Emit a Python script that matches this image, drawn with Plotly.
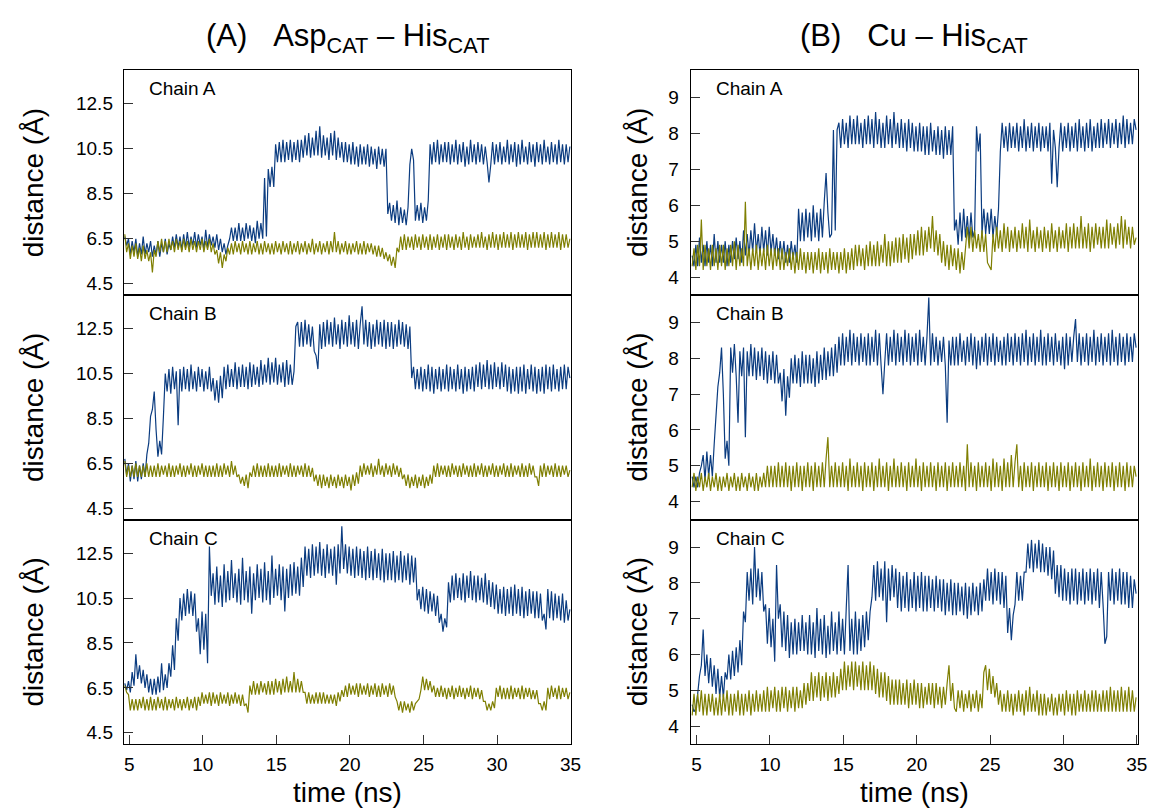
import plotly.graph_objects as go

# Each series is stored as rows of 16 samples; row k starts at T0 + 2k ns,
# samples within a row are DT apart.
T0 = 4.7
ROW_NS = 2.0
DT = 0.125

# ---------------- (A) Asp_CAT - His_CAT ----------------
ASP_A_BLUE = [
    [6.6, 6.2, 6.5, 5.8, 6.4, 5.9, 6.5, 5.7, 6.3, 5.8, 6.6, 5.8, 6.3, 5.9, 6.4, 5.7],
    [6.2, 5.8, 6.4, 5.7, 6.3, 5.9, 6.5, 5.8, 6.3, 6.0, 6.6, 6.1, 6.7, 6.1, 6.6, 6.0],
    [6.7, 6.1, 6.8, 6.1, 6.6, 6.2, 6.8, 6.1, 6.7, 6.2, 6.6, 6.0, 6.9, 6.1, 6.7, 6.2],
    [6.6, 6.1, 6.7, 6.0, 6.5, 5.9, 6.3, 5.8, 6.2, 6.5, 7.0, 6.4, 7.0, 6.4, 7.2, 6.4],
    [7.0, 6.4, 7.2, 6.5, 7.1, 6.4, 7.0, 6.3, 7.3, 6.5, 7.2, 6.5, 9.2, 6.6, 9.6, 8.8],
    [9.7, 8.8, 10.7, 9.9, 10.8, 9.9, 10.9, 9.9, 10.8, 10.0, 10.9, 9.9, 10.8, 10.0, 10.9, 9.9],
    [10.9, 10.1, 11.1, 10.2, 11.2, 10.1, 11.0, 10.2, 11.3, 10.2, 11.5, 10.1, 11.1, 10.2, 11.0, 10.0],
    [11.2, 10.2, 11.3, 10.0, 11.0, 10.1, 10.8, 9.9, 10.8, 9.9, 10.7, 9.8, 10.8, 9.8, 10.6, 9.7],
    [10.7, 9.8, 10.6, 9.8, 10.7, 9.7, 10.6, 9.8, 10.5, 9.6, 10.6, 9.8, 10.5, 9.7, 10.5, 7.6],
    [8.1, 7.3, 8.0, 7.2, 8.2, 7.1, 7.9, 7.2, 7.8, 7.1, 7.9, 9.8, 10.5, 10.0, 7.3, 8.0],
    [7.3, 8.1, 7.2, 7.9, 7.3, 8.2, 10.7, 9.8, 10.8, 9.9, 10.9, 9.8, 10.7, 9.9, 10.8, 9.9],
    [10.8, 9.8, 10.7, 9.9, 10.9, 9.8, 10.7, 9.9, 10.8, 9.7, 10.6, 9.8, 10.9, 9.9, 10.7, 9.8],
    [10.8, 9.9, 10.7, 9.8, 10.6, 9.9, 9.0, 9.8, 10.8, 9.8, 10.7, 9.9, 10.8, 9.8, 10.6, 9.9],
    [10.9, 9.8, 10.7, 9.9, 10.8, 9.7, 10.7, 9.8, 10.9, 9.9, 10.6, 9.8, 10.8, 9.9, 10.7, 9.7],
    [10.8, 9.9, 10.7, 9.8, 10.9, 9.9, 10.6, 9.8, 10.8, 9.9, 10.7, 9.8, 10.9, 9.9, 10.7, 9.8],
    [10.7, 9.9, 10.6],
]
ASP_A_OLIVE = [
    [6.7, 5.9, 6.3, 5.6, 6.2, 5.7, 6.3, 5.6, 6.1, 5.5, 6.2, 5.6, 6.0, 5.5, 5.9, 5.0],
    [6.0, 5.7, 6.4, 5.9, 6.5, 5.9, 6.4, 5.9, 6.5, 6.0, 6.4, 5.9, 6.5, 6.0, 6.4, 5.9],
    [6.5, 6.0, 6.4, 5.9, 6.5, 6.0, 6.4, 5.9, 6.4, 6.0, 6.5, 5.9, 6.4, 6.0, 6.5, 5.9],
    [6.3, 5.8, 6.0, 5.4, 5.9, 5.2, 5.8, 5.5, 6.1, 5.8, 6.3, 5.8, 6.4, 5.9, 6.3, 5.8],
    [6.4, 5.9, 6.3, 5.8, 6.4, 5.8, 6.3, 5.9, 6.4, 5.8, 6.3, 5.8, 6.4, 5.9, 6.3, 5.8],
    [6.3, 5.8, 6.4, 5.9, 6.3, 5.8, 6.4, 5.9, 6.3, 5.8, 6.4, 5.8, 6.3, 5.9, 6.4, 5.8],
    [6.3, 5.9, 6.4, 5.8, 6.3, 5.9, 6.5, 5.8, 6.3, 5.9, 6.4, 5.8, 6.3, 5.9, 6.4, 5.8],
    [6.4, 5.9, 6.8, 5.9, 6.4, 5.8, 6.3, 5.9, 6.4, 5.8, 6.3, 5.8, 6.3, 5.9, 6.4, 5.8],
    [6.3, 5.8, 6.4, 5.8, 6.3, 5.9, 6.3, 5.8, 6.2, 5.7, 6.2, 5.7, 6.1, 5.6, 5.9, 5.5],
    [5.8, 5.3, 5.7, 5.2, 6.1, 5.9, 6.6, 6.0, 6.7, 6.0, 6.6, 6.1, 6.6, 6.0, 6.7, 6.1],
    [6.6, 6.0, 6.7, 6.1, 6.6, 6.0, 6.7, 6.0, 6.6, 6.1, 6.7, 6.0, 6.6, 6.1, 6.7, 6.0],
    [6.7, 6.1, 6.6, 6.0, 6.7, 6.1, 6.6, 6.0, 6.8, 6.1, 6.6, 6.0, 6.7, 6.1, 6.6, 6.1],
    [6.7, 6.1, 6.8, 6.1, 6.6, 6.0, 6.7, 6.1, 6.8, 6.1, 6.7, 6.0, 6.7, 6.1, 6.8, 6.1],
    [6.7, 6.1, 6.8, 6.0, 6.7, 6.1, 6.8, 6.1, 6.7, 6.1, 6.8, 6.0, 6.7, 6.1, 6.8, 6.1],
    [6.8, 6.1, 6.7, 6.1, 6.8, 6.0, 6.7, 6.1, 6.8, 6.1, 6.7, 6.1, 6.8, 6.0, 6.7, 6.1],
    [6.7, 6.1, 6.5],
]
ASP_B_BLUE = [
    [6.7, 6.0, 6.5, 5.7, 6.4, 5.8, 6.6, 5.7, 6.4, 5.8, 6.5, 5.9, 6.9, 7.4, 8.6, 8.9],
    [9.7, 8.0, 6.8, 7.5, 6.9, 8.6, 10.5, 9.7, 10.7, 9.6, 10.8, 9.8, 10.6, 8.2, 10.7, 9.7],
    [10.8, 9.8, 10.7, 9.7, 10.9, 9.8, 10.6, 9.7, 10.8, 9.9, 10.7, 9.7, 10.6, 9.8, 10.8, 9.7],
    [10.3, 9.3, 10.2, 9.2, 10.4, 9.4, 10.8, 9.8, 10.9, 9.9, 10.7, 9.9, 11.0, 9.8, 10.8, 9.9],
    [10.9, 9.9, 10.8, 9.8, 11.0, 9.9, 10.9, 10.0, 10.8, 9.9, 11.1, 10.0, 10.9, 10.1, 11.2, 10.0],
    [11.0, 10.1, 11.2, 10.0, 10.9, 10.1, 11.0, 9.9, 11.1, 10.0, 10.9, 10.0, 10.6, 12.6, 12.8, 11.7],
    [12.8, 11.7, 12.9, 11.8, 12.7, 11.7, 12.6, 11.5, 11.3, 10.7, 12.7, 11.6, 12.8, 11.7, 12.9, 11.8],
    [12.8, 11.7, 13.0, 11.8, 12.7, 11.6, 12.9, 11.8, 12.8, 11.7, 13.1, 11.8, 12.8, 11.7, 12.9, 11.6],
    [12.7, 13.5, 11.8, 12.9, 11.7, 12.8, 11.6, 12.7, 11.7, 12.9, 11.8, 12.8, 11.7, 12.9, 11.6, 12.8],
    [11.7, 12.8, 11.6, 12.7, 11.7, 12.9, 11.8, 12.8, 11.7, 12.7, 11.6, 12.6, 10.3, 10.8, 9.8, 10.7],
    [9.8, 10.8, 9.7, 10.7, 9.8, 10.9, 9.7, 10.8, 9.6, 10.7, 9.8, 10.8, 9.7, 10.7, 9.8, 10.9],
    [9.7, 10.8, 9.8, 10.7, 9.7, 10.9, 9.8, 10.7, 9.6, 10.8, 9.7, 10.7, 9.8, 10.8, 9.7, 10.9],
    [9.9, 11.0, 9.8, 10.9, 9.9, 11.1, 9.8, 10.9, 9.8, 11.0, 9.9, 10.8, 9.8, 11.0, 9.9, 10.9],
    [9.7, 10.8, 9.6, 10.7, 9.7, 10.8, 9.6, 10.8, 9.7, 10.9, 9.6, 10.7, 9.8, 10.9, 9.7, 10.8],
    [9.6, 10.7, 9.7, 10.8, 9.6, 10.9, 9.8, 10.8, 9.7, 10.9, 9.8, 10.7, 9.7, 10.8, 9.8, 10.9],
    [9.8, 10.8, 10.3],
]
ASP_B_OLIVE = [
    [6.6, 5.9, 6.4, 5.9, 6.4, 5.9, 6.5, 5.9, 6.4, 5.9, 6.4, 5.9, 6.5, 5.9, 6.4, 5.9],
    [6.4, 5.9, 6.5, 5.9, 6.4, 6.0, 6.4, 5.9, 6.5, 5.9, 6.4, 5.9, 6.4, 6.0, 6.5, 5.9],
    [6.4, 5.9, 6.4, 6.0, 6.5, 5.9, 6.4, 5.9, 6.4, 6.0, 6.5, 5.9, 6.4, 5.9, 6.4, 5.9],
    [6.4, 5.9, 6.5, 5.9, 6.4, 5.9, 6.5, 6.0, 6.4, 5.9, 6.6, 6.0, 6.4, 5.9, 6.0, 5.6],
    [5.9, 5.5, 6.0, 5.4, 6.1, 5.9, 6.4, 5.9, 6.5, 5.9, 6.4, 5.9, 6.4, 5.9, 6.5, 5.9],
    [6.4, 5.9, 6.4, 5.9, 6.5, 5.9, 6.4, 6.0, 6.4, 5.9, 6.5, 5.9, 6.4, 5.9, 6.4, 6.0],
    [6.4, 5.9, 6.5, 5.9, 6.4, 5.9, 6.3, 5.7, 6.0, 5.5, 6.0, 5.4, 6.0, 5.5, 5.9, 5.4],
    [6.0, 5.5, 5.9, 5.4, 6.0, 5.5, 5.9, 5.4, 6.0, 5.5, 5.9, 5.3, 6.0, 5.5, 6.1, 5.6],
    [6.4, 5.9, 6.5, 6.0, 6.4, 6.0, 6.5, 5.9, 6.4, 6.0, 6.7, 6.0, 6.4, 5.9, 6.5, 6.0],
    [6.4, 5.9, 6.5, 6.0, 6.4, 5.9, 6.3, 5.8, 6.0, 5.5, 6.0, 5.4, 5.9, 5.5, 6.0, 5.4],
    [5.9, 5.5, 6.0, 5.4, 5.9, 5.5, 6.0, 5.6, 6.4, 5.9, 6.5, 5.9, 6.4, 6.0, 6.4, 5.9],
    [6.4, 5.9, 6.5, 6.0, 6.4, 5.9, 6.4, 5.9, 6.5, 6.0, 6.4, 5.9, 6.4, 5.9, 6.5, 5.9],
    [6.4, 6.0, 6.5, 5.9, 6.4, 5.9, 6.4, 6.0, 6.5, 5.9, 6.4, 5.9, 6.4, 6.0, 6.5, 5.9],
    [6.4, 5.9, 6.5, 5.9, 6.4, 6.0, 6.4, 5.9, 6.5, 5.9, 6.4, 5.9, 6.5, 6.0, 6.4, 5.9],
    [5.9, 5.5, 6.4, 5.9, 6.5, 5.9, 6.4, 6.0, 6.4, 5.9, 6.5, 5.9, 6.4, 5.9, 6.4, 6.0],
    [6.4, 5.9, 6.2],
]
ASP_C_BLUE = [
    [6.7, 6.4, 6.8, 6.3, 7.2, 6.6, 8.0, 6.9, 7.5, 6.7, 7.3, 6.5, 7.1, 6.3, 6.9, 6.2],
    [6.9, 6.2, 7.0, 6.3, 7.6, 6.4, 7.1, 6.5, 7.6, 7.0, 8.4, 7.3, 9.6, 8.6, 10.5, 9.5],
    [10.7, 9.7, 10.9, 9.8, 10.8, 9.7, 10.7, 9.0, 9.6, 8.0, 9.9, 8.2, 9.8, 7.6, 12.8, 10.6],
    [11.6, 10.2, 11.9, 10.3, 11.5, 10.1, 12.0, 10.3, 11.7, 10.4, 12.2, 10.5, 11.6, 10.3, 11.8, 10.2],
    [12.3, 10.4, 11.7, 10.3, 11.9, 9.8, 11.6, 10.4, 12.0, 10.5, 11.8, 10.3, 12.1, 10.4, 11.7, 10.2],
    [12.4, 10.5, 11.8, 10.6, 12.0, 10.4, 11.9, 9.9, 11.8, 10.5, 12.0, 10.6, 12.1, 10.7, 11.9, 10.6],
    [12.3, 11.0, 12.8, 11.5, 12.7, 11.4, 12.9, 11.5, 12.8, 11.6, 13.0, 11.5, 12.7, 11.4, 12.9, 11.6],
    [12.7, 11.5, 12.8, 11.1, 12.9, 11.6, 13.7, 11.8, 12.9, 11.6, 12.8, 11.5, 12.7, 11.4, 12.8, 11.5],
    [12.7, 11.4, 12.6, 11.3, 12.8, 11.4, 12.6, 11.3, 12.7, 11.4, 12.5, 11.3, 12.7, 11.2, 12.5, 11.3],
    [12.5, 11.3, 12.6, 11.2, 12.4, 11.3, 12.6, 11.2, 12.4, 11.3, 12.5, 11.1, 12.4, 11.2, 12.3, 10.4],
    [10.9, 10.0, 11.0, 9.9, 10.9, 9.8, 10.8, 9.9, 10.7, 9.7, 10.6, 9.4, 9.8, 9.0, 9.6, 9.2],
    [11.2, 10.3, 11.5, 10.4, 11.6, 10.5, 11.4, 10.4, 11.6, 10.3, 11.5, 10.5, 11.7, 10.4, 11.5, 10.3],
    [11.5, 10.4, 11.4, 10.3, 11.6, 10.2, 11.3, 10.1, 11.2, 10.0, 11.1, 9.8, 10.9, 9.8, 11.0, 9.7],
    [10.9, 9.8, 11.0, 9.7, 11.1, 9.8, 10.9, 9.7, 11.0, 9.6, 10.8, 9.7, 10.9, 9.8, 10.8, 9.6],
    [10.8, 9.6, 10.7, 9.5, 9.8, 9.1, 10.9, 9.6, 10.8, 9.5, 10.7, 9.6, 10.6, 9.5, 10.7, 9.4],
    [10.4, 9.5, 10.0],
]
ASP_C_OLIVE = [
    [6.6, 6.3, 6.2, 5.5, 6.0, 5.5, 6.0, 5.5, 6.0, 5.6, 6.1, 5.5, 6.0, 5.5, 6.1, 5.5],
    [6.0, 5.5, 6.1, 5.6, 6.0, 5.5, 6.1, 5.5, 6.0, 5.6, 6.0, 5.5, 6.1, 5.6, 6.0, 5.5],
    [6.0, 5.6, 6.1, 5.5, 6.0, 5.6, 6.1, 5.5, 6.1, 5.7, 6.3, 5.8, 6.2, 5.8, 6.3, 5.7],
    [6.3, 5.8, 6.2, 5.7, 6.3, 5.8, 6.2, 5.8, 6.3, 5.7, 6.2, 5.8, 6.3, 5.8, 6.2, 5.7],
    [6.2, 5.7, 5.8, 5.4, 6.6, 6.2, 6.8, 6.2, 6.7, 6.2, 6.8, 6.3, 6.7, 6.2, 6.8, 6.2],
    [6.8, 6.2, 6.9, 6.3, 6.8, 6.2, 6.9, 6.3, 7.0, 6.3, 6.8, 6.3, 7.2, 6.3, 6.9, 6.3],
    [6.8, 6.3, 6.3, 5.8, 6.3, 5.8, 6.2, 5.8, 6.3, 5.8, 6.3, 5.8, 6.3, 5.8, 6.2, 5.8],
    [6.2, 5.8, 6.2, 5.7, 6.3, 5.9, 6.4, 6.1, 6.6, 6.1, 6.7, 6.2, 6.6, 6.2, 6.7, 6.1],
    [6.7, 6.2, 6.6, 6.2, 6.7, 6.1, 6.6, 6.2, 6.7, 6.1, 6.6, 6.1, 6.7, 6.2, 6.6, 6.1],
    [6.7, 6.2, 6.6, 6.1, 5.9, 5.5, 5.9, 5.4, 5.9, 5.5, 5.8, 5.4, 5.9, 5.5, 5.8, 5.9],
    [6.0, 6.4, 7.0, 6.4, 6.9, 6.4, 6.8, 6.3, 6.6, 6.1, 6.5, 6.1, 6.6, 6.1, 6.5, 6.0],
    [6.5, 6.1, 6.6, 6.0, 6.5, 6.1, 6.6, 6.1, 6.5, 6.0, 6.5, 6.1, 6.6, 6.0, 6.5, 6.1],
    [6.5, 6.0, 6.4, 5.9, 5.9, 5.5, 5.8, 5.5, 5.9, 5.6, 6.5, 6.1, 6.6, 6.0, 6.5, 6.0],
    [6.5, 6.0, 6.6, 6.0, 6.5, 6.1, 6.5, 6.0, 6.6, 6.0, 6.5, 6.1, 6.5, 6.0, 6.4, 6.0],
    [6.4, 5.8, 5.8, 5.5, 5.9, 5.5, 6.5, 6.0, 6.6, 6.1, 6.5, 6.0, 6.6, 6.0, 6.5, 6.1],
    [6.5, 6.0, 6.3],
]

# ---------------- (B) Cu - His_CAT ----------------
CU_A_BLUE = [
    [4.6, 4.3, 4.9, 4.3, 5.1, 4.4, 4.9, 4.3, 5.0, 4.4, 4.9, 4.3, 5.2, 4.4, 5.0, 4.4],
    [4.9, 4.4, 5.0, 4.3, 4.9, 4.4, 5.0, 4.5, 5.1, 4.5, 5.0, 4.4, 5.3, 4.6, 5.2, 4.6],
    [5.3, 4.7, 5.5, 4.7, 5.2, 4.6, 5.4, 4.7, 5.3, 4.6, 5.4, 4.7, 5.2, 4.6, 5.1, 4.5],
    [5.0, 4.5, 5.0, 4.4, 4.9, 4.4, 5.0, 4.5, 4.9, 4.4, 5.9, 5.0, 5.8, 5.0, 5.9, 5.1],
    [5.8, 5.0, 6.0, 5.1, 5.8, 5.0, 5.9, 5.1, 6.1, 6.9, 5.8, 5.1, 5.2, 8.1, 5.3, 8.1],
    [8.3, 7.6, 8.4, 7.7, 8.3, 7.6, 8.5, 7.7, 8.4, 7.7, 8.5, 7.7, 8.3, 7.6, 8.4, 7.7],
    [8.5, 7.7, 8.4, 7.6, 8.6, 7.7, 8.4, 7.6, 8.3, 7.6, 8.5, 7.7, 8.4, 7.6, 8.6, 7.7],
    [8.3, 7.6, 8.4, 7.6, 8.3, 7.5, 8.4, 7.6, 8.3, 7.5, 8.2, 7.5, 8.3, 7.5, 8.2, 7.4],
    [8.2, 7.4, 8.3, 7.5, 8.1, 7.4, 8.2, 7.4, 8.1, 7.3, 8.2, 7.4, 8.1, 7.4, 8.2, 5.3],
    [5.6, 4.9, 5.8, 5.0, 5.9, 5.1, 5.7, 5.0, 5.8, 5.1, 5.3, 8.2, 7.5, 8.0, 5.2, 5.9],
    [5.2, 5.8, 5.2, 5.9, 5.1, 5.7, 5.2, 5.9, 7.5, 8.3, 7.6, 8.2, 7.5, 8.3, 7.6, 8.2],
    [7.6, 8.3, 7.5, 8.2, 7.6, 8.4, 7.5, 8.2, 7.6, 8.3, 7.5, 8.2, 7.6, 8.3, 7.5, 8.2],
    [7.6, 8.2, 7.5, 8.3, 6.6, 8.1, 7.6, 6.5, 7.6, 8.3, 7.5, 8.2, 7.6, 8.3, 7.5, 8.2],
    [7.6, 8.3, 7.5, 8.4, 7.6, 8.2, 7.5, 8.3, 7.6, 8.4, 7.5, 8.2, 7.6, 8.3, 7.6, 8.4],
    [7.6, 8.3, 7.7, 8.4, 7.6, 8.3, 7.7, 8.4, 7.6, 8.3, 7.7, 8.5, 7.6, 8.4, 7.7, 8.3],
    [7.7, 8.4, 8.1],
]
CU_A_OLIVE = [
    [4.3, 4.8, 4.2, 4.9, 4.3, 5.6, 4.2, 4.9, 4.3, 4.8, 4.2, 4.9, 4.3, 4.8, 4.2, 4.9],
    [4.3, 4.9, 4.2, 4.8, 4.3, 4.9, 4.3, 5.0, 4.2, 4.9, 4.3, 4.8, 4.3, 6.1, 4.3, 4.8],
    [4.2, 4.8, 4.3, 4.9, 4.2, 4.8, 4.3, 4.8, 4.2, 4.9, 4.3, 4.8, 4.2, 4.8, 4.3, 4.8],
    [4.2, 4.8, 4.2, 4.7, 4.3, 4.8, 4.2, 4.7, 4.1, 4.7, 4.2, 4.8, 4.2, 4.7, 4.1, 4.7],
    [4.2, 4.7, 4.1, 4.7, 4.2, 4.8, 4.1, 4.7, 4.2, 4.7, 4.1, 4.8, 4.2, 4.7, 4.2, 4.7],
    [4.1, 4.7, 4.2, 4.8, 4.1, 4.7, 4.2, 4.8, 4.2, 4.9, 4.3, 4.9, 4.3, 4.8, 4.2, 4.9],
    [4.3, 5.0, 4.3, 4.9, 4.3, 5.0, 4.3, 4.9, 4.4, 5.2, 4.3, 5.0, 4.3, 5.0, 4.4, 5.1],
    [4.4, 5.1, 4.4, 5.2, 4.5, 5.1, 4.4, 5.2, 4.5, 5.2, 4.6, 5.3, 4.6, 5.4, 4.6, 5.3],
    [4.7, 5.4, 4.8, 5.7, 4.7, 5.3, 4.6, 5.2, 4.4, 5.0, 4.3, 4.9, 4.2, 4.9, 4.3, 4.8],
    [4.2, 4.8, 4.1, 4.7, 4.2, 4.8, 5.4, 4.8, 5.4, 4.7, 5.3, 4.8, 5.2, 4.7, 5.3, 4.7],
    [5.2, 4.4, 4.3, 4.2, 5.2, 4.7, 5.4, 4.8, 5.3, 4.7, 5.5, 4.8, 5.4, 4.7, 5.3, 4.8],
    [5.4, 4.7, 5.3, 4.8, 5.5, 4.8, 5.4, 4.7, 5.6, 4.8, 5.3, 4.7, 5.4, 4.8, 5.3, 4.7],
    [5.4, 4.8, 5.3, 4.7, 5.5, 4.8, 5.3, 4.7, 5.4, 4.8, 5.3, 4.8, 5.5, 4.7, 5.4, 4.8],
    [5.5, 4.8, 5.4, 4.8, 5.7, 4.8, 5.4, 4.8, 5.5, 4.7, 5.4, 4.8, 5.5, 4.9, 5.4, 4.8],
    [5.4, 4.8, 5.6, 4.8, 5.5, 4.9, 5.4, 4.8, 5.5, 4.9, 5.7, 4.8, 5.6, 4.9, 5.4, 4.8],
    [5.4, 4.9, 5.1],
]
CU_B_BLUE = [
    [4.7, 4.4, 4.7, 4.4, 4.8, 5.0, 5.3, 4.6, 5.4, 4.7, 5.3, 4.7, 5.6, 6.4, 7.2, 7.6],
    [8.3, 7.0, 5.2, 5.7, 5.0, 8.3, 7.6, 8.4, 7.5, 6.2, 8.2, 7.5, 8.3, 5.8, 8.2, 7.5],
    [8.4, 7.5, 8.3, 7.4, 8.2, 7.5, 8.3, 7.4, 8.2, 7.3, 8.1, 7.4, 8.2, 7.3, 8.1, 7.3],
    [7.6, 6.8, 7.7, 6.4, 7.5, 6.9, 8.0, 7.3, 8.1, 7.3, 8.0, 7.2, 8.2, 7.3, 8.1, 7.3],
    [8.1, 7.3, 8.0, 7.2, 8.2, 7.3, 8.1, 7.4, 8.3, 7.4, 8.2, 7.5, 8.3, 7.5, 8.4, 7.6],
    [8.6, 7.8, 8.7, 7.8, 8.6, 7.9, 8.8, 7.8, 8.7, 7.9, 8.6, 7.8, 8.7, 7.9, 8.6, 7.8],
    [8.7, 7.8, 8.6, 7.9, 8.8, 7.8, 8.7, 7.8, 7.0, 7.9, 8.7, 7.8, 8.6, 7.9, 8.8, 7.8],
    [8.7, 7.9, 8.6, 7.8, 8.8, 7.9, 8.7, 7.8, 8.6, 7.9, 8.7, 7.8, 8.8, 7.9, 8.6, 7.8],
    [8.6, 9.7, 7.8, 8.7, 7.9, 8.6, 7.8, 8.5, 7.9, 8.6, 7.8, 6.2, 8.5, 7.8, 8.6, 7.8],
    [8.6, 7.8, 8.7, 7.9, 8.5, 7.8, 8.6, 7.9, 8.7, 7.8, 8.6, 7.7, 8.5, 7.8, 8.6, 7.9],
    [8.7, 7.8, 8.6, 7.9, 8.7, 7.8, 8.6, 7.9, 8.5, 7.8, 8.6, 7.8, 8.7, 7.9, 8.6, 7.8],
    [8.7, 7.9, 8.6, 7.8, 8.7, 7.9, 8.8, 7.8, 8.6, 7.9, 8.7, 7.8, 8.6, 7.9, 8.8, 7.8],
    [8.6, 7.8, 8.7, 7.9, 8.6, 7.8, 8.7, 7.9, 8.5, 7.8, 8.6, 7.7, 8.7, 7.8, 8.6, 7.9],
    [8.6, 9.1, 7.9, 8.7, 7.8, 8.6, 7.9, 8.7, 7.8, 8.6, 7.9, 8.8, 7.8, 8.6, 7.9, 8.7],
    [7.8, 8.6, 7.9, 8.7, 7.8, 8.8, 7.9, 8.6, 7.8, 8.7, 7.9, 8.6, 7.8, 8.7, 7.9, 8.6],
    [7.9, 8.7, 8.3],
]
CU_B_OLIVE = [
    [4.4, 4.8, 4.3, 4.7, 4.4, 4.8, 4.3, 4.7, 4.4, 4.8, 4.3, 4.7, 4.4, 4.8, 4.3, 4.7],
    [4.3, 4.7, 4.4, 4.8, 4.3, 4.7, 4.4, 4.8, 4.3, 4.7, 4.3, 4.8, 4.4, 4.7, 4.3, 4.8],
    [4.4, 4.7, 4.3, 4.8, 4.3, 4.7, 4.4, 4.8, 4.4, 5.0, 4.4, 5.0, 4.4, 5.0, 4.4, 5.1],
    [4.4, 5.0, 4.4, 5.1, 4.4, 5.0, 4.3, 5.0, 4.4, 5.1, 4.4, 5.0, 4.3, 5.0, 4.4, 5.1],
    [4.4, 5.0, 4.3, 5.1, 4.4, 5.0, 4.4, 5.1, 4.4, 5.2, 5.8, 4.4, 5.0, 4.4, 5.1, 4.4],
    [5.0, 4.4, 5.1, 4.4, 5.0, 4.3, 5.2, 4.4, 5.0, 4.4, 5.1, 4.4, 5.0, 4.3, 5.1, 4.4],
    [5.0, 4.4, 5.1, 4.3, 5.0, 4.4, 5.2, 4.4, 5.0, 4.4, 5.1, 4.3, 5.0, 4.4, 5.2, 4.4],
    [5.0, 4.4, 5.1, 4.4, 5.0, 4.3, 5.1, 4.4, 5.0, 4.4, 5.2, 4.4, 5.0, 4.3, 5.1, 4.4],
    [5.0, 4.4, 5.1, 4.4, 5.0, 4.3, 5.1, 4.4, 5.0, 4.4, 5.1, 4.3, 5.0, 4.4, 5.1, 4.4],
    [5.0, 4.4, 5.1, 4.4, 5.0, 4.3, 5.6, 4.4, 5.1, 4.4, 5.0, 4.3, 5.1, 4.4, 5.0, 4.4],
    [5.1, 4.4, 5.0, 4.3, 5.2, 4.4, 5.1, 4.4, 5.0, 4.3, 5.2, 4.4, 5.1, 4.4, 5.3, 4.4],
    [5.1, 5.6, 4.4, 5.0, 4.3, 5.1, 4.4, 5.0, 4.4, 5.1, 4.3, 5.0, 4.4, 5.1, 4.4, 5.0],
    [4.4, 5.1, 4.3, 5.0, 4.4, 5.1, 4.4, 5.0, 4.3, 5.1, 4.4, 5.0, 4.4, 5.1, 4.3, 5.0],
    [4.4, 5.1, 4.4, 5.0, 4.3, 5.1, 4.4, 5.0, 4.4, 5.2, 4.3, 5.0, 4.4, 5.1, 4.4, 5.0],
    [4.3, 5.1, 4.4, 5.0, 4.4, 5.1, 4.3, 5.0, 4.4, 5.1, 4.4, 5.0, 4.3, 5.1, 4.4, 5.0],
    [4.4, 5.0, 4.7],
]
CU_C_BLUE = [
    [4.6, 4.4, 4.5, 4.9, 5.4, 5.7, 6.7, 5.4, 6.0, 5.2, 5.9, 5.1, 5.7, 4.9, 5.6, 4.8],
    [5.4, 4.8, 5.5, 5.3, 6.0, 5.3, 6.1, 5.4, 6.2, 5.5, 6.4, 5.7, 7.2, 6.9, 8.3, 7.5],
    [8.4, 7.4, 9.0, 7.6, 8.4, 7.5, 8.3, 7.2, 7.4, 6.3, 7.3, 6.2, 7.0, 5.8, 8.5, 7.0],
    [7.4, 6.2, 7.2, 6.1, 7.1, 5.9, 6.9, 6.0, 7.0, 6.0, 6.9, 6.1, 7.1, 6.1, 6.9, 6.0],
    [7.1, 6.0, 6.9, 5.9, 7.3, 6.1, 7.0, 6.0, 7.1, 5.9, 6.8, 6.0, 7.2, 6.1, 6.9, 6.0],
    [7.2, 6.1, 7.0, 6.0, 7.3, 8.5, 6.1, 7.0, 6.0, 7.2, 6.0, 7.0, 6.1, 7.1, 6.2, 7.2],
    [6.4, 7.2, 7.6, 8.5, 7.5, 8.6, 7.6, 8.4, 7.5, 8.6, 6.9, 8.4, 7.5, 8.5, 7.6, 8.4],
    [7.3, 8.3, 7.2, 8.2, 7.3, 8.3, 7.2, 8.1, 7.3, 8.3, 7.2, 8.2, 7.3, 8.3, 7.2, 8.2],
    [7.2, 8.2, 7.3, 8.1, 7.2, 8.2, 7.3, 8.1, 7.2, 8.1, 7.1, 8.0, 7.2, 8.1, 7.1, 8.0],
    [7.1, 8.0, 7.2, 7.9, 7.1, 8.0, 7.0, 7.9, 7.1, 8.0, 7.2, 7.9, 7.1, 8.0, 7.2, 8.1],
    [7.5, 8.4, 7.5, 8.3, 7.4, 8.4, 7.5, 8.3, 7.4, 8.3, 7.3, 8.2, 6.6, 7.3, 6.4, 7.1],
    [7.4, 8.3, 7.5, 8.2, 7.5, 8.3, 8.3, 9.1, 8.4, 9.2, 8.3, 9.1, 8.4, 9.2, 8.3, 9.1],
    [8.3, 9.0, 8.2, 9.0, 8.1, 8.9, 7.7, 8.5, 7.6, 8.5, 7.5, 8.4, 7.5, 8.3, 7.4, 8.4],
    [7.5, 8.4, 7.4, 8.3, 7.5, 8.4, 7.4, 8.3, 7.5, 8.4, 7.4, 8.3, 7.5, 8.4, 7.3, 8.3],
    [7.4, 6.3, 6.5, 8.3, 7.5, 8.4, 7.4, 8.3, 7.5, 8.4, 7.4, 8.3, 7.4, 8.3, 7.3, 8.2],
    [7.3, 8.1, 7.7],
]
CU_C_OLIVE = [
    [4.3, 4.9, 4.3, 4.9, 4.4, 5.0, 4.3, 4.9, 4.3, 4.9, 4.4, 4.9, 4.3, 4.8, 4.3, 4.9],
    [4.3, 4.9, 4.4, 5.0, 4.3, 4.9, 4.3, 4.9, 4.4, 5.0, 4.3, 4.9, 4.3, 4.9, 4.4, 5.0],
    [4.3, 4.9, 4.4, 5.0, 4.4, 4.9, 4.4, 5.0, 4.4, 5.1, 4.4, 5.0, 4.5, 5.1, 4.4, 5.0],
    [4.4, 5.1, 4.5, 5.1, 4.4, 5.0, 4.5, 5.1, 4.4, 5.1, 4.5, 5.0, 4.5, 5.2, 4.6, 5.2],
    [4.7, 5.5, 4.7, 5.4, 4.8, 5.5, 4.7, 5.4, 4.8, 5.5, 4.7, 5.4, 4.8, 5.5, 4.8, 5.4],
    [4.9, 5.6, 5.0, 5.8, 5.0, 5.7, 5.1, 5.8, 5.0, 5.8, 5.1, 5.7, 5.0, 5.8, 5.0, 5.7],
    [5.0, 5.8, 5.0, 5.7, 4.9, 5.6, 4.8, 5.5, 4.8, 5.5, 4.7, 5.4, 4.6, 5.3, 4.6, 5.3],
    [4.6, 5.3, 4.6, 5.2, 4.6, 5.3, 4.5, 5.2, 4.6, 5.3, 4.6, 5.2, 4.5, 5.2, 4.5, 5.1],
    [4.6, 5.2, 4.6, 5.2, 4.5, 5.2, 4.6, 5.1, 4.5, 5.1, 4.6, 5.2, 5.7, 4.7, 5.2, 4.5],
    [4.4, 5.0, 4.5, 5.0, 4.4, 4.9, 4.5, 5.0, 4.4, 4.9, 4.5, 5.0, 4.4, 4.9, 4.5, 5.5],
    [5.7, 5.0, 5.6, 4.9, 5.4, 4.8, 5.2, 4.6, 5.0, 4.4, 4.9, 4.4, 5.0, 4.4, 4.9, 4.3],
    [4.9, 4.4, 5.0, 4.4, 4.9, 4.3, 5.0, 4.4, 5.1, 4.4, 4.9, 4.4, 5.0, 4.3, 4.9, 4.3],
    [4.9, 4.3, 4.8, 4.4, 4.9, 4.3, 4.8, 4.3, 4.9, 4.4, 4.9, 4.3, 5.0, 4.4, 4.9, 4.3],
    [4.9, 4.3, 5.0, 4.4, 4.9, 4.4, 5.0, 4.4, 4.9, 4.4, 5.0, 4.4, 5.0, 4.4, 4.9, 4.4],
    [5.0, 4.4, 5.0, 4.4, 5.1, 4.4, 5.0, 4.4, 5.0, 4.4, 5.1, 4.4, 5.0, 4.4, 5.1, 4.4],
    [5.0, 4.4, 4.8],
]

CHAINS = ["Chain A", "Chain B", "Chain C"]
X_TICKS = [5, 10, 15, 20, 25, 30, 35]
ASP_Y_TICKS = [4.5, 6.5, 8.5, 10.5, 12.5]
CU_Y_TICKS = [4, 5, 6, 7, 8, 9]
TITLES = ["(A)\u00a0\u00a0\u00a0Asp<sub>CAT</sub> \u2013 His<sub>CAT</sub>",
          "(B)\u00a0\u00a0\u00a0Cu \u2013 His<sub>CAT</sub>"]

BLUE = "#0b3c80"
OLIVE = "#7f7f02"
FONT = "Liberation Sans, Arial, Helvetica, sans-serif"

W, H = 1163, 811
COL_PX = [(125, 576), (696.7, 1148)]
ROW_PX = [(70, 295), (295, 519.5), (519.5, 744)]
X_RANGES = [[4.64, 35.03], [4.6, 35.09]]
Y_RANGES = [[4.0, 14.0], [3.5, 9.77]]
Y_TICKS = [ASP_Y_TICKS, CU_Y_TICKS]

SERIES = [
    [(ASP_A_BLUE, ASP_A_OLIVE), (ASP_B_BLUE, ASP_B_OLIVE), (ASP_C_BLUE, ASP_C_OLIVE)],
    [(CU_A_BLUE, CU_A_OLIVE), (CU_B_BLUE, CU_B_OLIVE), (CU_C_BLUE, CU_C_OLIVE)],
]


def flatten(rows):
    xs, ys = [], []
    for k, row in enumerate(rows):
        for j, v in enumerate(row):
            xs.append(round(T0 + ROW_NS * k + DT * j, 3))
            ys.append(v)
    return xs, ys


def px_x(p):
    return p / W


def px_y(p):
    return 1 - p / H


fig = go.Figure()
layout = dict(
    width=W, height=H,
    margin=dict(l=0, r=0, t=0, b=0),
    paper_bgcolor="white", plot_bgcolor="white",
    showlegend=False,
    font=dict(family=FONT, color="black"),
)
annotations = []

idx = 0
for c in range(2):
    for r in range(3):
        idx += 1
        xa = "x" if idx == 1 else f"x{idx}"
        ya = "y" if idx == 1 else f"y{idx}"
        blue, olive = SERIES[c][r]
        bx, by = flatten(blue)
        ox, oy = flatten(olive)
        fig.add_trace(go.Scatter(x=bx, y=by, mode="lines",
                                 line=dict(color=BLUE, width=1.2, simplify=False),
                                 xaxis=xa, yaxis=ya, hoverinfo="skip"))
        fig.add_trace(go.Scatter(x=ox, y=oy, mode="lines",
                                 line=dict(color=OLIVE, width=1.2, simplify=False),
                                 xaxis=xa, yaxis=ya, hoverinfo="skip"))
        x0p, x1p = COL_PX[c]
        y0p, y1p = ROW_PX[r]
        bottom = (r == 2)
        layout["xaxis" if idx == 1 else f"xaxis{idx}"] = dict(
            domain=[px_x(x0p), px_x(x1p)], range=X_RANGES[c],
            anchor=ya, showgrid=False, zeroline=False,
            showline=True, mirror=True, linecolor="black", linewidth=1.3,
            ticks="inside" if bottom else "", ticklen=9, tickwidth=1, tickcolor="#333",
            tickvals=X_TICKS, showticklabels=bottom,
            tickfont=dict(size=19, family=FONT, color="black"),
            ticklabelstandoff=3,
        )
        layout["yaxis" if idx == 1 else f"yaxis{idx}"] = dict(
            domain=[px_y(y1p), px_y(y0p)], range=Y_RANGES[c],
            anchor=xa, showgrid=False, zeroline=False,
            showline=True, mirror=True, linecolor="black", linewidth=1.3,
            ticks="inside", ticklen=9, tickwidth=1, tickcolor="#333",
            tickvals=Y_TICKS[c], ticktext=[str(v) for v in Y_TICKS[c]],
            tickfont=dict(size=19, family=FONT, color="black"),
            ticklabelstandoff=6 if c == 0 else 7,
        )
        annotations.append(dict(
            x=px_x(x0p + 23), y=px_y(y0p + 19), xref="paper", yref="paper",
            text=CHAINS[r], showarrow=False, xanchor="left", yanchor="middle",
            font=dict(size=19, family=FONT, color="black"),
        ))
        annotations.append(dict(
            x=px_x(34 if c == 0 else 643), y=px_y((y0p + y1p) / 2),
            xref="paper", yref="paper", text="distance (\u00c5)", textangle=-90,
            showarrow=False, xanchor="center", yanchor="middle",
            font=dict(size=28, family=FONT, color="black"),
        ))
    cx = (COL_PX[c][0] + COL_PX[c][1]) / 2
    annotations.append(dict(
        x=px_x(cx), y=px_y(38), xref="paper", yref="paper", text=TITLES[c],
        showarrow=False, xanchor="center", yanchor="middle",
        font=dict(size=31, family=FONT, color="black"),
    ))
    annotations.append(dict(
        x=px_x(cx), y=px_y(792), xref="paper", yref="paper", text="time (ns)",
        showarrow=False, xanchor="center", yanchor="middle",
        font=dict(size=28, family=FONT, color="black"),
    ))

layout["annotations"] = annotations
fig.update_layout(**layout)
fig.write_html("out.html")
